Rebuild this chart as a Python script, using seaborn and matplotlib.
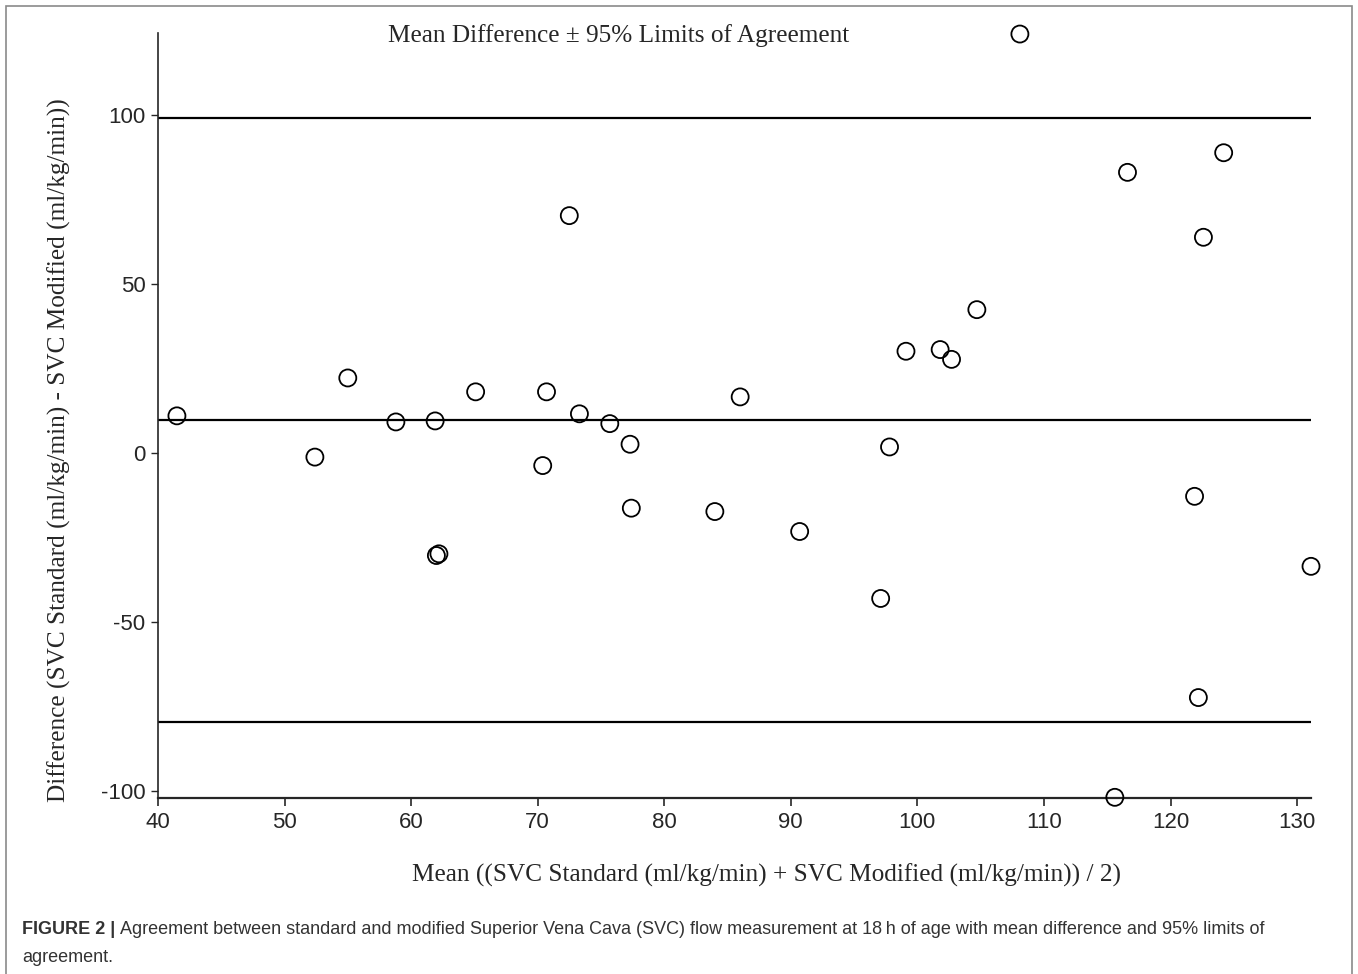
import matplotlib
matplotlib.use("Agg")
import numpy as np
import pandas as pd
import seaborn as sns
import matplotlib.pyplot as plt
from matplotlib.patches import Rectangle

# Bland-Altman points
mean_vals = [41.5, 52.4, 55.0, 58.8, 61.9, 62.0, 62.2, 65.1, 70.4, 70.7,
             72.5, 73.3, 75.7, 77.3, 77.4, 84.0, 86.0, 90.7, 97.1, 97.8,
             99.1, 101.8, 102.7, 104.7, 108.1, 115.6, 116.6, 121.9, 122.2,
             122.6, 124.2, 131.1]
diff_vals = [11.0, -1.2, 22.2, 9.2, 9.5, -30.3, -29.8, 18.1, -3.7, 18.1,
             70.2, 11.6, 8.7, 2.6, -16.3, -17.3, 16.6, -23.2, -43.0, 1.8,
             30.1, 30.6, 27.7, 42.4, 123.9, -101.8, 83.0, -12.8, -72.3,
             63.8, 88.8, -33.5]

mean_diff = 9.8
upper_loa = 99.2
lower_loa = -79.6

x_ticks = [40, 50, 60, 70, 80, 90, 100, 110, 120, 130]
y_ticks = [-100, -50, 0, 50, 100]

df = pd.DataFrame({"mean": mean_vals, "diff": diff_vals})

sns.set_style("ticks")
serif = ["Liberation Serif", "DejaVu Serif"]
sans = ["Liberation Sans", "DejaVu Sans"]

fig = plt.figure(figsize=(13.58, 9.74), dpi=100)
ax = fig.add_axes([0.1163, 0.1807, 0.9654 - 0.1163, 0.9661 - 0.1807])

for yv in [upper_loa, mean_diff, lower_loa]:
    ax.axhline(yv, color="black", lw=1.6, zorder=1)

sns.scatterplot(data=df, x="mean", y="diff", ax=ax, marker="o", s=150,
                facecolors="none", edgecolor="black", linewidth=1.3,
                zorder=3, legend=False, clip_on=False)

ax.set_xlim(40, 131.1)
ax.set_ylim(-102, 124.2)
ax.set_xticks(x_ticks)
ax.set_yticks(y_ticks)
ax.set_xticklabels([str(t) for t in x_ticks], fontfamily=sans, fontsize=16)
ax.set_yticklabels([str(t) for t in y_ticks], fontfamily=sans, fontsize=16)
ax.tick_params(axis="x", length=6, width=1.2, pad=4)
ax.tick_params(axis="y", length=5, width=1, pad=4)
sns.despine(ax=ax)
ax.spines["left"].set_linewidth(1.2)
ax.spines["bottom"].set_linewidth(1.6)

ax.set_xlabel("Mean ((SVC Standard (ml/kg/min) + SVC Modified (ml/kg/min)) / 2)",
              fontfamily=serif, fontsize=18.2)
ax.set_ylabel("Difference (SVC Standard (ml/kg/min) - SVC Modified (ml/kg/min))",
              fontfamily=serif, fontsize=18.2)
ax.xaxis.set_label_coords(0.528, -0.086)
ax.yaxis.set_label_coords(-0.075, 0.455)

fig.text(619 / 1358, 1 - 36 / 974, "Mean Difference \u00b1 95% Limits of Agreement",
         fontfamily=serif, fontsize=18.2, ha="center", va="center")

# outer frame
fig.patches.append(Rectangle((6 / 1358, -0.01), 1346 / 1358, 1.01 - 6 / 974,
                             transform=fig.transFigure, fill=False,
                             edgecolor="#8a8a8a", lw=1.2))

# caption
cap_col = "#333333"
t1 = fig.text(22 / 1358, 1 - 930 / 974, "FIGURE 2 | ", fontfamily=sans,
              fontsize=13, fontweight="bold", color=cap_col, va="center")
fig.canvas.draw()
bb = t1.get_window_extent(renderer=fig.canvas.get_renderer())
fig.text(bb.x1 / fig.bbox.width, 1 - 930 / 974,
         "Agreement between standard and modified Superior Vena Cava (SVC) flow "
         "measurement at 18\u2009h of age with mean difference and 95% limits of",
         fontfamily=sans, fontsize=13, color=cap_col, va="center")
fig.text(22 / 1358, 1 - 957 / 974, "agreement.", fontfamily=sans,
         fontsize=13, color=cap_col, va="center")

fig.savefig("out.png", dpi=100)
